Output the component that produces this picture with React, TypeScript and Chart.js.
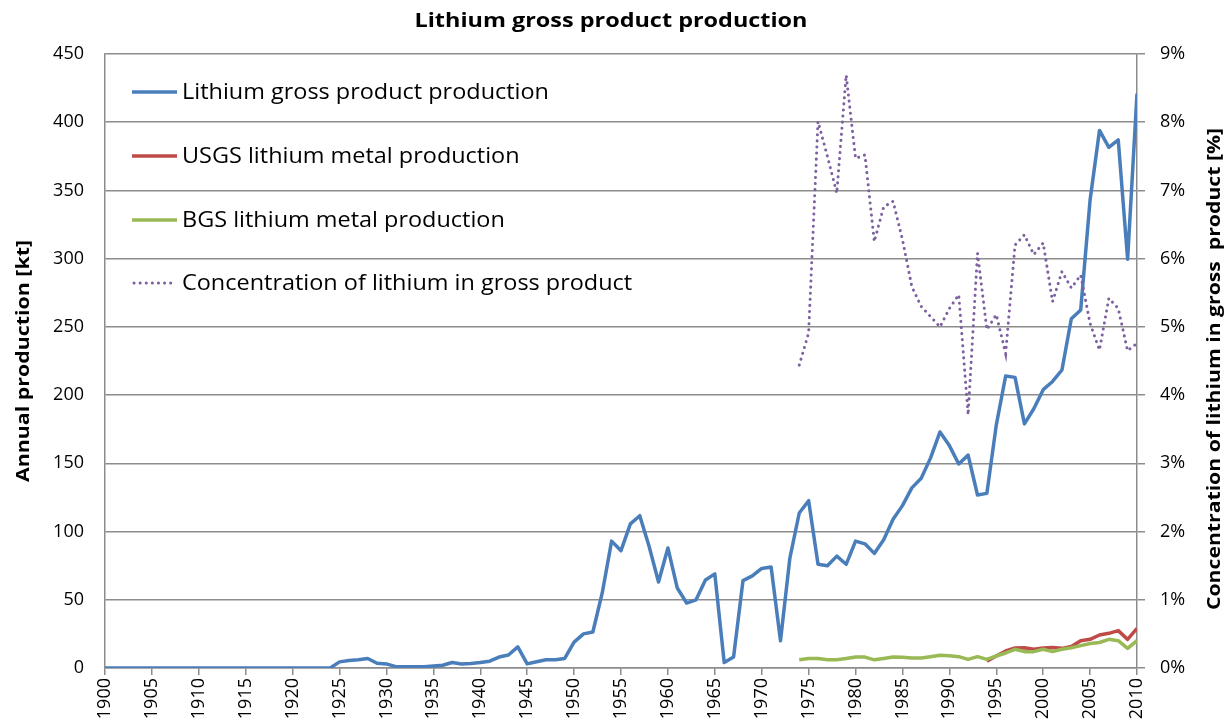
import { useEffect, useRef } from 'react';
import { Chart, registerables } from 'chart.js';

Chart.register(...registerables);

const years = [
  1900, 1901, 1902, 1903, 1904, 1905, 1906, 1907, 1908, 1909,
  1910, 1911, 1912, 1913, 1914, 1915, 1916, 1917, 1918, 1919,
  1920, 1921, 1922, 1923, 1924, 1925, 1926, 1927, 1928, 1929,
  1930, 1931, 1932, 1933, 1934, 1935, 1936, 1937, 1938, 1939,
  1940, 1941, 1942, 1943, 1944, 1945, 1946, 1947, 1948, 1949,
  1950, 1951, 1952, 1953, 1954, 1955, 1956, 1957, 1958, 1959,
  1960, 1961, 1962, 1963, 1964, 1965, 1966, 1967, 1968, 1969,
  1970, 1971, 1972, 1973, 1974, 1975, 1976, 1977, 1978, 1979,
  1980, 1981, 1982, 1983, 1984, 1985, 1986, 1987, 1988, 1989,
  1990, 1991, 1992, 1993, 1994, 1995, 1996, 1997, 1998, 1999,
  2000, 2001, 2002, 2003, 2004, 2005, 2006, 2007, 2008, 2009,
  2010,
];

// Lithium gross product production [kt], 1900-2010
const grossProduction = [
  0, 0, 0, 0, 0, 0, 0, 0, 0, 0,
  0, 0, 0, 0, 0, 0, 0, 0, 0, 0,
  0, 0, 0, 0, 0, 4.5, 5.5, 6, 7, 3.5,
  3, 1, 1, 1, 1, 1.5, 2, 4, 3, 3.3,
  4, 5, 8, 9.5, 15.5, 3, 4.6, 6, 6, 7,
  19, 25, 26.4, 55, 93, 86, 105.6, 111.6, 89, 63,
  88, 58.6, 47.6, 50, 64.5, 69, 4, 8, 64, 67.5,
  73, 74, 20, 80.6, 113.6, 122.6, 76, 75, 82, 76,
  93, 91, 84, 94, 109, 119, 132, 139, 154, 173,
  163, 149.5, 156, 126.8, 128, 178, 214, 213, 178.9, 190,
  204, 210, 218.4, 256, 262.4, 343, 394, 381.6, 387, 299.6,
  421,
];

// USGS lithium metal production [kt], 1994-2010
const usgsStartYear = 1994;
const usgsProduction = [
  5, 8.8, 12.5, 14.7, 14.9, 13.7, 14.7, 15, 14.4, 15.7,
  20, 21, 24.2, 25.4, 27.4, 21, 29,
];

// BGS lithium metal production [kt], 1974-2010
const bgsStartYear = 1974;
const bgsProduction = [
  6, 7, 7, 6, 6, 7, 8, 8, 6, 7,
  8, 7.8, 7.3, 7.3, 8.3, 9.3, 9, 8.3, 6.3, 8.3,
  6.3, 8.8, 11, 13.7, 12, 12, 13.7, 12, 13.7, 14.9,
  16.4, 18, 18.7, 21, 20, 14.4, 20,
];

// Concentration of lithium in gross product [%], 1974-2010
const concStartYear = 1974;
const concentration = [
  4.44, 4.91, 8.01, 7.5, 6.96, 8.69, 7.47, 7.52, 6.25, 6.76,
  6.84, 6.28, 5.59, 5.3, 5.15, 5.0, 5.27, 5.47, 3.71, 6.08,
  4.96, 5.18, 4.61, 6.2, 6.35, 6.06, 6.23, 5.37, 5.81, 5.57,
  5.76, 5.05, 4.66, 5.42, 5.27, 4.65, 4.76,
];

const leftTicks = [0, 50, 100, 150, 200, 250, 300, 350, 400, 450];
const rightTicks = [0, 1, 2, 3, 4, 5, 6, 7, 8, 9];

const seriesNames = [
  'Lithium gross product production',
  'USGS lithium metal production',
  'BGS lithium metal production',
  'Concentration of lithium in gross product',
];
const chartTitle = 'Lithium gross product production';
const leftAxisTitle = 'Annual production [kt]';
const rightAxisTitle = 'Concentration of lithium in gross  product [%]';

const colors = ['#4A7EBB', '#BE4B48', '#98B954', '#7D60A0'];
const FONT = "'Open Sans', 'Liberation Sans', sans-serif";
const GRID = '#8C8C8C';

const fromStart = (start: number, vals: number[]) =>
  vals.map((v, i) => ({ x: years[years.indexOf(start) + i], y: v }));

// draw text centred at (0,0) of the current transform, stretched horizontally to a width
function stretchedText(ctx: CanvasRenderingContext2D, text: string, width: number) {
  const w = ctx.measureText(text).width;
  ctx.save();
  ctx.scale(width / w, 1);
  ctx.textAlign = 'center';
  ctx.fillText(text, 0, 0);
  ctx.restore();
}

const overlayPlugin = {
  id: 'overlay',
  afterDraw(chart: any) {
    const ctx = chart.ctx as CanvasRenderingContext2D;
    ctx.save();
    ctx.fillStyle = '#000';
    ctx.textBaseline = 'alphabetic';
    // Title
    ctx.font = `bold 20px ${FONT}`;
    ctx.save();
    ctx.translate(611, 27);
    stretchedText(ctx, chartTitle, 393);
    ctx.restore();

    // Left axis title
    ctx.font = `bold 18px ${FONT}`;
    ctx.save();
    ctx.translate(29, 361);
    ctx.rotate(-Math.PI / 2);
    stretchedText(ctx, leftAxisTitle, 242);
    ctx.restore();
    // Right axis title
    ctx.save();
    ctx.translate(1220, 369);
    ctx.rotate(-Math.PI / 2);
    stretchedText(ctx, rightAxisTitle, 482);
    ctx.restore();

    // Legend
    const rowsY = [92, 156, 220, 283];
    ctx.font = `21px ${FONT}`;
    const sx = 367 / ctx.measureText(seriesNames[0]).width;
    ctx.textAlign = 'left';
    ctx.textBaseline = 'middle';
    seriesNames.forEach((name, i) => {
      const y = rowsY[i];
      ctx.beginPath();
      ctx.strokeStyle = colors[i];
      if (i === 3) {
        ctx.lineWidth = 3;
        ctx.lineCap = 'round';
        ctx.setLineDash([0.1, 6]);
        ctx.moveTo(134, y);
        ctx.lineTo(174, y);
      } else {
        ctx.lineWidth = 3.5;
        ctx.lineCap = 'butt';
        ctx.setLineDash([]);
        ctx.moveTo(132, y);
        ctx.lineTo(177, y);
      }
      ctx.stroke();
      ctx.setLineDash([]);
      ctx.fillStyle = '#000';
      ctx.save();
      ctx.translate(182, y + 1);
      ctx.scale(sx, 1);
      ctx.fillText(name, 0, 0);
      ctx.restore();
    });
    ctx.restore();
  },
};

export default function App() {
  const ref = useRef<HTMLCanvasElement>(null);
  useEffect(() => {
    const chart = new Chart(ref.current!, {
      type: 'line',
      data: {
        datasets: [
          {
            label: seriesNames[0],
            data: fromStart(1900, grossProduction),
            borderColor: colors[0],
            borderWidth: 3.5,
            pointRadius: 0,
            borderJoinStyle: 'round',
            yAxisID: 'y',
            order: 2,
          },
          {
            label: seriesNames[1],
            data: fromStart(usgsStartYear, usgsProduction),
            borderColor: colors[1],
            borderWidth: 3.5,
            pointRadius: 0,
            borderJoinStyle: 'round',
            yAxisID: 'y',
            order: 4,
          },
          {
            label: seriesNames[2],
            data: fromStart(bgsStartYear, bgsProduction),
            borderColor: colors[2],
            borderWidth: 3.5,
            pointRadius: 0,
            borderJoinStyle: 'round',
            yAxisID: 'y',
            order: 3,
          },
          {
            label: seriesNames[3],
            data: fromStart(concStartYear, concentration),
            borderColor: colors[3],
            borderWidth: 3,
            borderDash: [0.1, 6],
            borderCapStyle: 'round',
            pointRadius: 0,
            yAxisID: 'y1',
            order: 1,
          },
        ],
      },
      options: {
        responsive: false,
        animation: false,
        devicePixelRatio: 1,
        layout: { padding: { left: 0, right: 0, top: 54, bottom: 0 } },
        plugins: { legend: { display: false }, tooltip: { enabled: false } },
        scales: {
          x: {
            type: 'linear',
            min: years[0],
            max: years[years.length - 1],
            position: 'bottom',
            afterFit: (s: any) => { s.height = 60; },
            ticks: {
              stepSize: 5,
              autoSkip: false,
              maxRotation: 90,
              minRotation: 90,
              padding: 3,
              color: '#000',
              font: { family: FONT, size: 18 },
              callback: (v: any) => String(v),
            },
            grid: { drawOnChartArea: false, drawTicks: true, tickLength: 7, color: GRID, lineWidth: 1.5 },
            border: { display: true, color: GRID, width: 1.5 },
          },
          y: {
            position: 'left',
            min: leftTicks[0],
            max: leftTicks[leftTicks.length - 1],
            afterFit: (s: any) => { s.width = 105; },
            afterBuildTicks: (s: any) => { s.ticks = leftTicks.map((v) => ({ value: v })); },
            ticks: { padding: 21, color: '#000', font: { family: FONT, size: 18 } },
            grid: { color: GRID, lineWidth: 1.5, drawTicks: false },
            border: { display: true, color: GRID, width: 1.5 },
          },
          y1: {
            position: 'right',
            min: rightTicks[0],
            max: rightTicks[rightTicks.length - 1],
            afterFit: (s: any) => { s.width = 91; },
            afterBuildTicks: (s: any) => { s.ticks = rightTicks.map((v) => ({ value: v })); },
            ticks: {
              padding: 15,
              color: '#000',
              font: { family: FONT, size: 18 },
              callback: (v: any) => `${v}%`,
            },
            grid: { drawOnChartArea: false, drawTicks: true, tickLength: 8, color: GRID, lineWidth: 1.5 },
            border: { display: true, color: GRID, width: 1.5 },
          },
        },
      },
      plugins: [overlayPlugin],
    } as any);
    return () => chart.destroy();
  }, []);
  return (
    <div style={{ position: 'absolute', left: 0, top: 0, width: 1228, height: 728, background: '#fff' }}>
      <canvas ref={ref} width={1228} height={728} style={{ display: 'block' }} />
    </div>
  );
}
